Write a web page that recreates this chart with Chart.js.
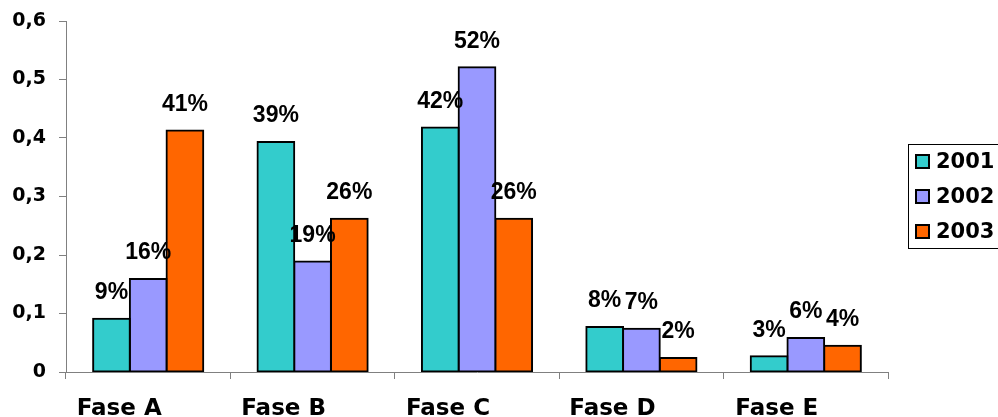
<!DOCTYPE html>
<html>
<head>
<meta charset="utf-8">
<script src="https://cdn.jsdelivr.net/npm/chart.js@4.4.0/dist/chart.umd.min.js"></script>
<style>
  html, body { margin: 0; padding: 0; background: #fff; }
  #wrap { width: 998px; height: 417px; }
</style>
</head>
<body>
<div id="wrap"><canvas id="chart"></canvas></div>
<script>
// Данные графика
const categories = ['Fase A', 'Fase B', 'Fase C', 'Fase D', 'Fase E'];
const seriesNames = ['2001', '2002', '2003'];
const values2001 = [0.091, 0.393, 0.418, 0.077, 0.027];
const values2002 = [0.159, 0.189, 0.521, 0.074, 0.058];
const values2003 = [0.413, 0.262, 0.262, 0.024, 0.045];
const labels2001 = ['9%', '39%', '42%', '8%', '3%'];
const labels2002 = ['16%', '19%', '52%', '7%', '6%'];
const labels2003 = ['41%', '26%', '26%', '2%', '4%'];
const yTicks = [0, 0.1, 0.2, 0.3, 0.4, 0.5, 0.6];

const colors = ['#33CCCC', '#9999FF', '#FF6600'];
const font = 'DejaVu Sans';

// Подписи над столбцами
const barLabels = {
  id: 'barLabels',
  afterDatasetsDraw(chart) {
    const ctx = chart.ctx;
    ctx.save();
    ctx.font = 'bold 23px "Liberation Sans"';
    ctx.fillStyle = '#000';
    ctx.textAlign = 'center';
    ctx.textBaseline = 'middle';
    chart.data.datasets.forEach(function(ds, i) {
      chart.getDatasetMeta(i).data.forEach(function(bar, j) {
        ctx.fillText(ds.pctLabels[j], bar.x, bar.y - 26);
      });
    });
    ctx.restore();
  }
};

// Легенда в рамке справа
const boxLegend = {
  id: 'boxLegend',
  afterDraw(chart) {
    const ctx = chart.ctx;
    const x0 = 908, y0 = 144, w = 100, h = 104;
    ctx.save();
    ctx.strokeStyle = '#000';
    ctx.lineWidth = 1;
    ctx.strokeRect(x0 + 0.5, y0 + 0.5, w, h);
    ctx.font = 'bold 21px "' + font + '"';
    ctx.textBaseline = 'middle';
    chart.data.datasets.forEach(function(ds, i) {
      const cy = y0 + 18 + i * 35;
      ctx.fillStyle = ds.backgroundColor;
      ctx.fillRect(916, cy - 7, 13, 13);
      ctx.lineWidth = 2;
      ctx.strokeStyle = '#000';
      ctx.strokeRect(916, cy - 7, 13, 13);
      ctx.fillStyle = '#000';
      ctx.fillText(ds.label, 936, cy + 1);
    });
    ctx.restore();
  }
};

const seriesValues = [values2001, values2002, values2003];
const seriesLabels = [labels2001, labels2002, labels2003];

const data = {
  labels: categories,
  datasets: seriesNames.map(function(name, i) {
    return {
      label: name,
      data: seriesValues[i],
      pctLabels: seriesLabels[i],
      backgroundColor: colors[i],
      borderColor: '#000',
      borderWidth: 2,
      borderSkipped: false,
      inflateAmount: 1,
      categoryPercentage: 0.67,
      barPercentage: 1
    };
  })
};

new Chart(document.getElementById('chart'), {
  type: 'bar',
  data: data,
  options: {
    responsive: true,
    maintainAspectRatio: false,
    animation: false,
    layout: { padding: { top: 21, right: 110, left: 0, bottom: 0 } },
    plugins: {
      legend: { display: false },
      tooltip: { enabled: false }
    },
    scales: {
      x: {
        grid: { display: true, drawOnChartArea: false, offset: true, tickLength: 7, color: '#808080' },
        border: { color: '#808080', width: 1 },
        ticks: {
          color: '#000',
          font: { family: font, size: 23, weight: 'bold' },
          padding: 16,
          labelOffset: -29,
          maxRotation: 0
        },
        afterFit: function(scale) { scale.height = 45; }
      },
      y: {
        min: 0,
        max: 0.6,
        afterBuildTicks: function(scale) {
          scale.ticks = yTicks.map(function(v) { return { value: v }; });
        },
        grid: { display: true, drawOnChartArea: false, tickLength: 7, color: '#808080' },
        border: { color: '#808080', width: 1 },
        ticks: {
          color: '#000',
          font: { family: font, size: 19, weight: 'bold' },
          padding: 13,
          callback: function(v) { return v === 0 ? '0' : v.toFixed(1).replace('.', ','); }
        },
        afterFit: function(scale) {
          scale.width = 66;
          scale.paddingTop = 0;
          scale.paddingBottom = 0;
        }
      }
    }
  },
  plugins: [barLabels, boxLegend]
});
</script>
</body>
</html>
